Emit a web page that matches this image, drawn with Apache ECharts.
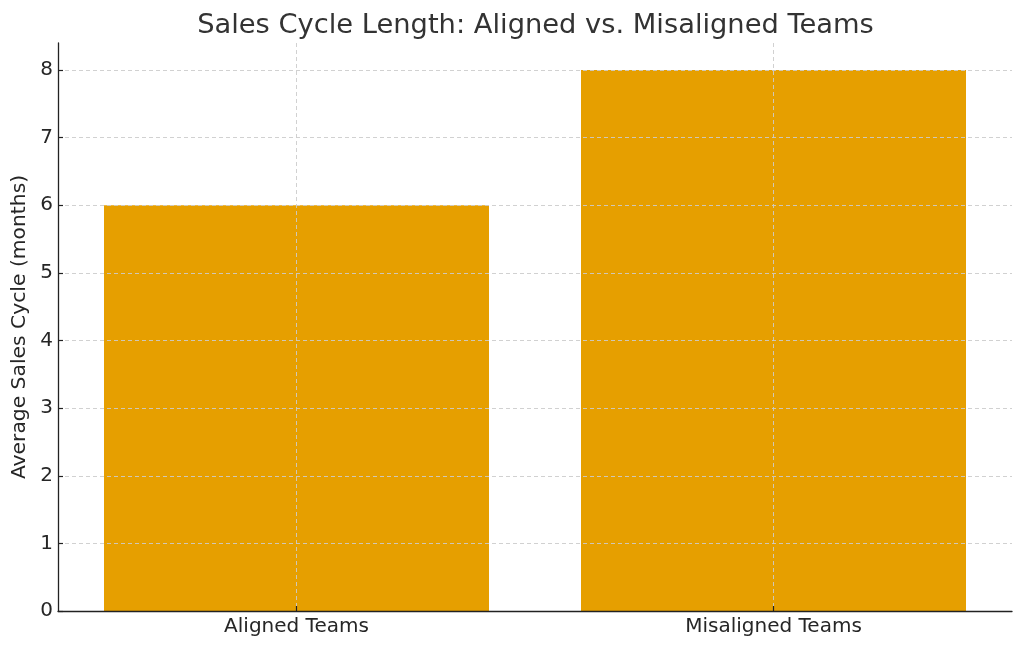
<!DOCTYPE html>
<html>
<head>
<meta charset="utf-8">
<script src="https://cdn.jsdelivr.net/npm/echarts@6/dist/echarts.min.js"></script>
<style>html,body{margin:0;padding:0;background:#fff}#c{width:1024px;height:650px}</style>
</head>
<body>
<div id="c"></div>
<script>
const categories = ['Aligned Teams', 'Misaligned Teams'];
const cycleMonths = [6, 8];
const yTicks = [0, 1, 2, 3, 4, 5, 6, 7, 8];

const chart = echarts.init(document.getElementById('c'), null, {renderer: 'canvas'});
const font = 'DejaVu Sans';
chart.setOption({
  animation: false,
  backgroundColor: '#ffffff',
  title: {
    text: 'Sales Cycle Length: Aligned vs. Misaligned Teams',
    left: 530.5, top: 7, textAlign: 'center',
    textStyle: {fontFamily: font, fontSize: 27.3, fontWeight: 'normal', color: '#333333'}
  },
  grid: {left: 58, right: 12, top: 43, bottom: 39, containLabel: false, outerBoundsMode: 'none'},
  xAxis: {
    type: 'category',
    data: categories,
    z: 5,
    axisLine: {show: true, lineStyle: {color: '#222', width: 1.3}},
    axisTick: {show: true, inside: true, alignWithLabel: true, length: 5, lineStyle: {color: '#222', width: 1.2}},
    axisLabel: {fontFamily: font, fontSize: 20, color: '#262626', margin: 6},
    splitLine: {show: true, alignWithLabel: true, lineStyle: {color: '#cccccc', type: [4, 3], width: 0.9}}
  },
  yAxis: {
    type: 'value',
    min: 0, max: 8.4, interval: 1,
    z: 5,
    name: 'Average Sales Cycle (months)',
    nameLocation: 'middle',
    nameGap: 27,
    nameTextStyle: {fontFamily: font, fontSize: 20.3, color: '#262626'},
    axisLine: {show: true, lineStyle: {color: '#222', width: 1.3}},
    axisTick: {show: true, inside: true, length: 5, lineStyle: {color: '#222', width: 1.2}},
    axisLabel: {fontFamily: font, fontSize: 20, color: '#262626', margin: 5, showMaxLabel: false,
      formatter: v => yTicks.includes(v) ? String(v) : ''},
    splitLine: {show: true, showMaxLine: false, lineStyle: {color: '#cccccc', type: [4, 3], width: 0.9}}
  },
  series: [{
    type: 'bar',
    data: cycleMonths,
    barWidth: 385,
    itemStyle: {color: '#E69F00'}
  }]
});
</script>
</body>
</html>
